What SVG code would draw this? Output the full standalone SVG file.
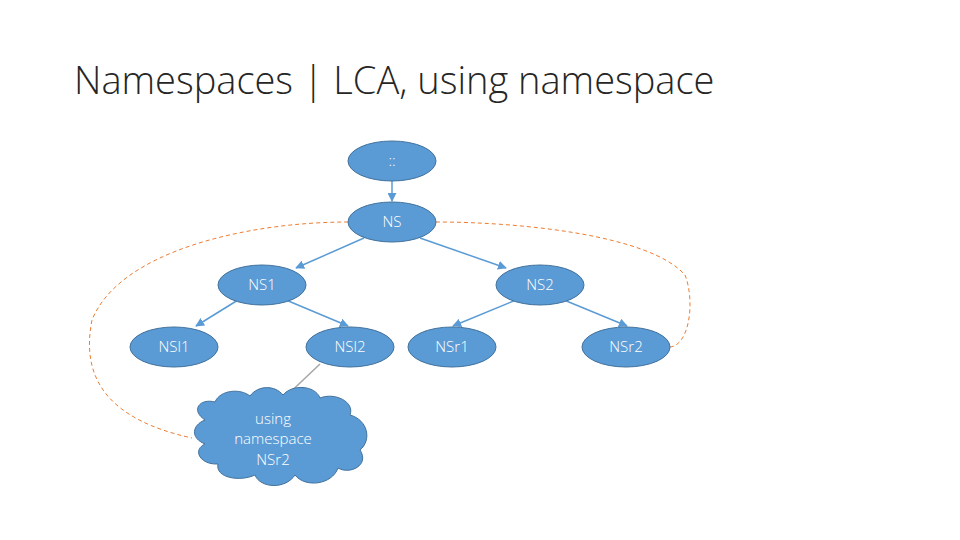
<svg xmlns="http://www.w3.org/2000/svg" width="960" height="540" viewBox="0 0 960 540">
<style>
.n{fill:#5B9BD5;stroke:#41719C;stroke-width:1}
.t{font-family:"Open Sans","Liberation Sans",sans-serif;font-weight:300;font-size:15px;fill:#fff;text-anchor:middle}
.e{stroke:#5B9BD5;stroke-width:1.5;fill:none;marker-end:url(#a)}
.d{stroke:#ED7D31;stroke-width:1;stroke-dasharray:4 3;fill:none}
</style>
<defs><marker id="a" viewBox="0 0 10 10" refX="9" refY="5" markerWidth="6" markerHeight="6" orient="auto"><path d="M0 0L10 5L0 10z" fill="#5B9BD5"/></marker></defs>
<rect width="960" height="540" fill="#fff"/>
<text x="74" y="94" font-family="'Open Sans','Liberation Sans',sans-serif" font-weight="300" font-size="38" fill="#262626">Namespaces | LCA, using namespace</text>
<g id="connectors">
<line class="e" x1="392" y1="181" x2="392" y2="201"/>
<line class="e" x1="364" y1="238" x2="296" y2="268"/>
<line class="e" x1="420" y1="238" x2="506" y2="268"/>
<line class="e" x1="238" y1="300" x2="196" y2="326"/>
<line class="e" x1="286" y1="300" x2="348" y2="326"/>
<line class="e" x1="516" y1="300" x2="453" y2="326"/>
<line class="e" x1="564" y1="300" x2="627" y2="326"/>
<path class="d" d="M348 222 C250 222 120 250 92 320 C80 380 110 420 192 438"/>
<path class="d" d="M436 222 C520 222 650 235 685 275 C695 300 690 345 670 347"/>
<line x1="320" y1="364" x2="282" y2="400" stroke="#A6A6A6" stroke-width="1.5"/>
</g>
<g id="root"><ellipse class="n" cx="392" cy="161" rx="44" ry="20"/><text class="t" x="392" y="166">::</text></g>
<g id="ns"><ellipse class="n" cx="392" cy="222" rx="44" ry="20"/><text class="t" x="392" y="227">NS</text></g>
<g id="ns1"><ellipse class="n" cx="262" cy="285" rx="44" ry="20"/><text class="t" x="262" y="290">NS1</text></g>
<g id="ns2"><ellipse class="n" cx="540" cy="285" rx="44" ry="20"/><text class="t" x="540" y="290">NS2</text></g>
<g id="nsl1"><ellipse class="n" cx="174" cy="347" rx="44" ry="20"/><text class="t" x="174" y="352">NSl1</text></g>
<g id="nsl2"><ellipse class="n" cx="350" cy="347" rx="44" ry="20"/><text class="t" x="350" y="352">NSl2</text></g>
<g id="nsr1"><ellipse class="n" cx="452" cy="347" rx="44" ry="20"/><text class="t" x="452" y="352">NSr1</text></g>
<g id="nsr2"><ellipse class="n" cx="626" cy="347" rx="44" ry="20"/><text class="t" x="626" y="352">NSr2</text></g>
<g id="cloud">
<path class="n" d="M205 420 C190 410 200 398 215 402 C220 390 240 388 250 396 C258 385 275 385 283 395 C292 384 315 385 320 398 C335 392 355 402 350 415 C368 420 372 440 360 450 C370 465 350 475 338 468 C332 485 305 488 295 475 C285 490 260 488 255 475 C240 482 215 478 218 464 C200 465 192 450 205 444 C190 438 192 425 205 420 Z"/>
<text class="t" x="273" y="424">using</text>
<text class="t" x="273" y="444">namespace</text>
<text class="t" x="273" y="465">NSr2</text>
</g>
</svg>
